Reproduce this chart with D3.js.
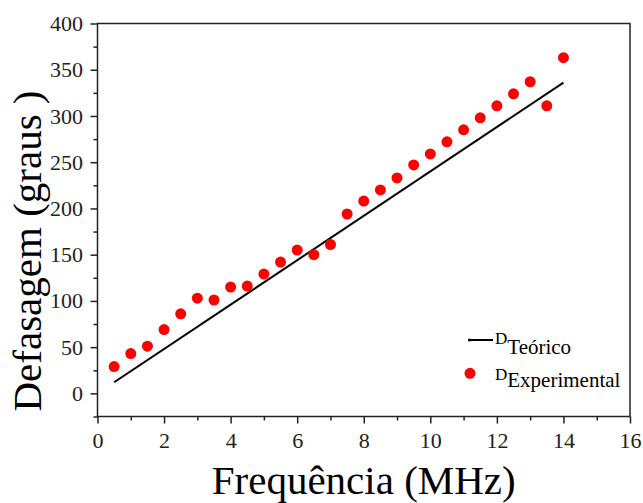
<!DOCTYPE html>
<html>
<head>
<meta charset="utf-8">
<script src="https://cdn.jsdelivr.net/npm/d3@7"></script>
<style>
  body { margin: 0; background: #fff; }
  svg { display: block; font-family: 'Liberation Serif', 'Times New Roman', serif; }
  .axis path, .axis line { stroke: #222; stroke-width: 1.5px; }
</style>
</head>
<body>
<svg width="643" height="503"></svg>
<script>
// frequency (MHz)
const freq = [0.5, 1, 1.5, 2, 2.5, 3, 3.5, 4, 4.5, 5, 5.5, 6, 6.5, 7,
  7.5, 8, 8.5, 9, 9.5, 10, 10.5, 11, 11.5, 12, 12.5, 13, 13.5, 14];
// measured phase shift (degrees)
const experimental = [29, 43, 51, 69, 86, 103, 101, 115, 116, 129, 142, 155, 150, 161,
  194, 208, 220, 233, 247, 259, 272, 285, 298, 311, 324, 337, 311, 363];
// theoretical line endpoints
const freqTeo = [0.5, 14];
const teorico = [12, 336];

const xTicks = [0, 2, 4, 6, 8, 10, 12, 14, 16];
const yTicks = [0, 50, 100, 150, 200, 250, 300, 350, 400];

const serif = "'Liberation Serif', 'Times New Roman', serif";

const svg = d3.select('svg');
const margin = {top: 23.5, right: 13, bottom: 86.5, left: 97.5};
const width = +svg.attr('width');
const height = +svg.attr('height');
const innerWidth = width - margin.left - margin.right;
const innerHeight = height - margin.top - margin.bottom;

const xScale = d3.scaleLinear().domain([0, 16]).range([0, innerWidth]);
const yScale = d3.scaleLinear().domain([-25, 400]).range([innerHeight, 0]);

const g = svg.append('g')
  .attr('transform', `translate(${margin.left},${margin.top})`);

// minor ticks (no labels)
const xMinor = g.append('g').attr('class', 'axis')
  .attr('transform', `translate(0,${innerHeight})`)
  .call(d3.axisBottom(xScale).tickValues(d3.range(1, 16, 2)).tickSize(4));
xMinor.selectAll('.domain, text').remove();
const yMinor = g.append('g').attr('class', 'axis')
  .call(d3.axisLeft(yScale).tickValues(d3.range(-25, 400, 50)).tickSize(4));
yMinor.selectAll('.domain, text').remove();

const xAxisG = g.append('g').attr('class', 'axis')
  .attr('transform', `translate(0,${innerHeight})`)
  .call(d3.axisBottom(xScale).tickValues(xTicks).tickSize(7).tickPadding(9))
  .attr('font-family', serif)
  .attr('font-size', 22);
xAxisG.select('.domain').remove();
xAxisG.selectAll('text').attr('fill', '#222');

const yAxisG = g.append('g').attr('class', 'axis')
  .call(d3.axisLeft(yScale).tickValues(yTicks).tickSize(7).tickPadding(7.5))
  .attr('font-family', serif)
  .attr('font-size', 22);
yAxisG.select('.domain').remove();
yAxisG.selectAll('text').attr('fill', '#222');

// frame
g.append('rect')
  .attr('width', innerWidth)
  .attr('height', innerHeight)
  .attr('fill', 'none')
  .attr('stroke', '#222')
  .attr('stroke-width', 1.5);

// theoretical line
const line = d3.line()
  .x((d, i) => xScale(freqTeo[i]))
  .y(d => yScale(d));
g.append('path')
  .attr('d', line(teorico))
  .attr('fill', 'none')
  .attr('stroke', '#000')
  .attr('stroke-width', 2);

// experimental points
g.selectAll('.pt').data(experimental).enter().append('circle')
  .attr('class', 'pt')
  .attr('cx', (d, i) => xScale(freq[i]))
  .attr('cy', d => yScale(d))
  .attr('r', 5.5)
  .attr('fill', '#ff0000');

// legend
const leg = svg.append('g');
leg.append('line')
  .attr('x1', 469).attr('x2', 493).attr('y1', 340).attr('y2', 340)
  .attr('stroke', '#000').attr('stroke-width', 2);
leg.append('circle').attr('cx', 469.5).attr('cy', 340).attr('r', 1.6).attr('fill', '#000');
const t1 = leg.append('text').attr('x', 495).attr('y', 343.5).attr('font-size', 17);
t1.append('tspan').text('D');
t1.append('tspan').attr('dy', 10).attr('font-size', 21).text('Teórico');
leg.append('circle').attr('cx', 470).attr('cy', 373.3).attr('r', 5.5).attr('fill', '#ff0000');
const t2 = leg.append('text').attr('x', 495).attr('y', 379.5).attr('font-size', 17);
t2.append('tspan').text('D');
t2.append('tspan').attr('dy', 7.5).attr('font-size', 21).text('Experimental');

// axis titles
svg.append('text')
  .attr('x', margin.left + innerWidth / 2)
  .attr('y', 493.5)
  .attr('text-anchor', 'middle')
  .attr('font-size', 41)
  .text('Frequência (MHz)');

svg.append('text')
  .attr('transform', 'translate(41,251) rotate(-90)')
  .attr('text-anchor', 'middle')
  .attr('font-size', 41)
  .text('Defasagem (graus )');
</script>
</body>
</html>
